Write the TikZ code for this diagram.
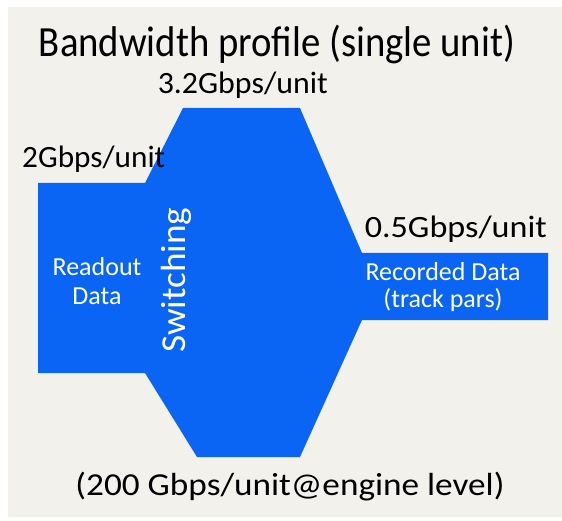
\documentclass[tikz,border=0pt]{standalone}
\usepackage{fontspec}
\setmainfont{Carlito}
\definecolor{slidebg}{RGB}{243,241,236}
\definecolor{flowblue}{RGB}{10,101,245}

% set a text at its natural height, stretched or squeezed to a given width (pt)
\newsavebox\fitbox
\newcommand\fitwidth[2]{%
  \sbox\fitbox{#2}%
  \pgfmathsetmacro\fitsx{#1/\the\wd\fitbox}%
  \scalebox{\fitsx}[1]{\usebox\fitbox}}

\tikzset{
  txt/.style={inner sep=0pt, anchor=base},
  titlefont/.style={txt, font=\fontsize{43}{43}\selectfont},
  ratefont/.style={txt, font=\fontsize{31}{31}\selectfont},
  notefont/.style={txt, font=\fontsize{32}{32}\selectfont},
  inner/.style={txt, text=white, font=\fontsize{26}{26}\selectfont},
  stage/.style={txt, text=white, font=\fontsize{35}{35}\selectfont, rotate=90},
}

\begin{document}
\begin{tikzpicture}[x=1pt,y=-1pt]
\useasboundingbox (0,0) rectangle (562,521);
\fill[white] (0,0) rectangle (562,521);
\fill[slidebg] (8,7) rectangle (562,517);

% bandwidth profile outline
\fill[flowblue] (38,183) -- (145,183) -- (183,108) -- (300,108) -- (362,253)
  -- (548,253) -- (548,320) -- (362,320) -- (300,457) -- (197,457)
  -- (145,373) -- (38,373) -- cycle;

\node[titlefont] (title) at (277,57) {\fitwidth{476}{Bandwidth profile (single unit)}};
\node[ratefont, anchor=base east] (peak) at (328,94) {\fitwidth{170}{3.2Gbps/unit}};
\node[ratefont, anchor=base west] (inrate) at (22,168) {\fitwidth{143}{2Gbps/unit}};
\node[ratefont, anchor=base east] (outrate) at (547,238) {\fitwidth{182}{0.5Gbps/unit}};
\node[notefont] (engine) at (290,495) {\fitwidth{429}{(200 Gbps/unit@engine level)}};

\node[inner] (readout) at (97,276) {Readout};
\node[inner] (readout2) at (97,305) {Data};
\node[inner] (recorded) at (443,280) {Recorded Data};
\node[inner] (recorded2) at (443,308) {(track pars)};
\node[stage] (switching) at (185,280) {\fitwidth{145}{Switching}};
\end{tikzpicture}
\end{document}
